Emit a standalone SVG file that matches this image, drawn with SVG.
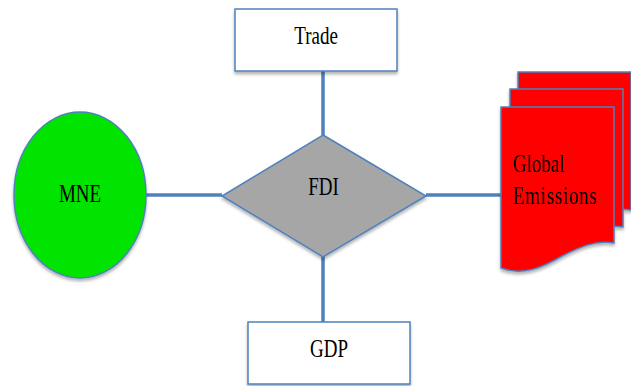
<svg xmlns="http://www.w3.org/2000/svg" width="631" height="386" viewBox="0 0 631 386">
<defs>
<filter id="sh" x="-10%" y="-10%" width="120%" height="130%">
<feDropShadow dx="0" dy="2.5" stdDeviation="1.5" flood-color="#000" flood-opacity="0.3"/>
</filter>
</defs>
<style>
.box{fill:#fff;stroke:#4f81bd;stroke-width:1.5}
.doc{fill:#ff0000;stroke:#4f81bd;stroke-width:1.5}
.conn{stroke:#4f81bd;stroke-width:3.5;fill:none}
.t{font-family:"Liberation Serif","DejaVu Serif",serif;font-size:19px;fill:#000;text-anchor:middle}
.tl{font-family:"Liberation Serif","DejaVu Serif",serif;font-size:19px;fill:#000}
</style>
<rect width="631" height="386" fill="#fff"/>
<g id="connectors">
<line class="conn" x1="323" y1="71" x2="323" y2="136"/>
<line class="conn" x1="323" y1="256" x2="323" y2="322"/>
<line class="conn" x1="146" y1="195" x2="222" y2="195"/>
<line class="conn" x1="426" y1="195" x2="501" y2="195"/>
</g>
<g id="trade">
<rect class="box" x="235" y="9" width="162" height="62" filter="url(#sh)"/>
<text class="t" transform="translate(316,44) scale(1,1.35)">Trade</text>
</g>
<g id="gdp">
<rect class="box" x="248" y="322" width="162" height="62" filter="url(#sh)"/>
<text class="t" transform="translate(329,357) scale(1,1.35)">GDP</text>
</g>
<g id="fdi">
<polygon points="323,135 426,196 323,257 222,196" fill="#a6a6a6" stroke="#4f81bd" stroke-width="1.5" filter="url(#sh)"/>
<text class="t" transform="translate(323.5,195) scale(1,1.35)">FDI</text>
</g>
<g id="mne">
<ellipse cx="80" cy="195" rx="66" ry="83" fill="#00e400" stroke="#4f81bd" stroke-width="1.5" filter="url(#sh)"/>
<text class="t" transform="translate(80,202) scale(1,1.35)">MNE</text>
</g>
<g id="global-emissions" filter="url(#sh)">
<path class="doc" d="M518,72 H631 V210 C610,207 595,215 580,222 C560,234 540,240 518,232 Z"/>
<path class="doc" d="M510,89 H623 V227 C600,224 585,232 570,240 C550,252 530,258 510,250 Z"/>
<path class="doc" d="M501,107 H614 V243 C594,240 578,248 562,256 C542,268 522,276 501,268 Z"/>
<text class="tl" transform="translate(513,172) scale(1,1.35)">Global</text>
<text class="tl" transform="translate(513,204) scale(1,1.35)" textLength="84">Emissions</text>
</g>
</svg>
